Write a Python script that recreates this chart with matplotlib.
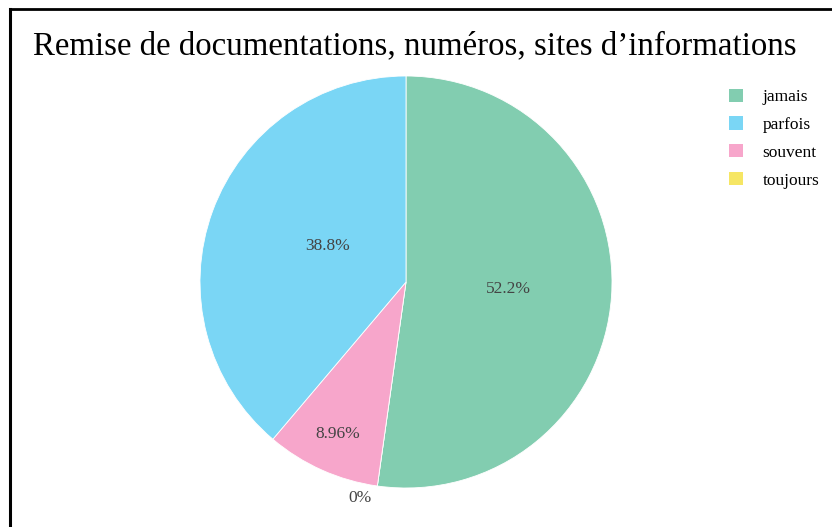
import numpy as np
import matplotlib
matplotlib.use("Agg")
import matplotlib.pyplot as plt
from matplotlib.patches import Patch
from matplotlib.lines import Line2D

title = "Remise de documentations, numéros, sites d’informations"
legend_labels = ["jamais", "parfois", "souvent", "toujours"]
legend_colors = ["#82CDB0", "#7AD6F5", "#F7A6CB", "#F6E664"]

# slice drawing order (clockwise from 12 o'clock)
slice_labels = ["jamais", "toujours", "souvent", "parfois"]
slice_values = [52.2, 0.0, 8.96, 38.8]
slice_texts = ["52.2%", "0%", "8.96%", "38.8%"]
label_dist = [0.5, 1.07, 0.81, 0.42]
label_nudge = [0.0, -4.0, 0.0, -4.8]

color_map = dict(zip(legend_labels, legend_colors))

fig = plt.figure(figsize=(8.32, 5.27), dpi=100)
W, H = 832, 527

ax = fig.add_axes([200 / W, 1 - 488 / H, 412 / W, 412 / H])
wedges, _ = ax.pie(slice_values, colors=[color_map[l] for l in slice_labels],
                   startangle=90, counterclock=False, radius=1.0,
                   wedgeprops=dict(edgecolor="white", linewidth=0.6))
ax.set_xlim(-1, 1)
ax.set_ylim(-1, 1)
ax.set_aspect("equal")
ax.axis("off")

total = sum(slice_values)
cum = 0.0
for v, t, d, n in zip(slice_values, slice_texts, label_dist, label_nudge):
    mid = 90 - (cum + v / 2) / total * 360 + n
    cum += v
    a = np.deg2rad(mid)
    ax.text(d * np.cos(a), d * np.sin(a), t, ha="center", va="center",
            fontsize=12.5, color="#444444", family="Liberation Serif")

fig.text(415 / W, 1 - 46 / H, title, ha="center", va="center",
         fontsize=23.7, family="Liberation Serif", color="black")

handles = [Patch(facecolor=c, edgecolor="none") for c in legend_colors]
fig.legend(handles, legend_labels, loc="upper left",
           bbox_to_anchor=(713 / W, 1 - 73 / H), frameon=False,
           handlelength=0.8, handleheight=0.8, labelspacing=0.64,
           handletextpad=1.15, prop=dict(family="Liberation Serif", size=12.5))

# frame lines (left and top)
fig.add_artist(Line2D([10 / W, 10 / W], [0, 1 - 9 / H], color="black", lw=2.2,
                      transform=fig.transFigure, solid_capstyle="projecting"))
fig.add_artist(Line2D([10 / W, 1], [1 - 9 / H, 1 - 9 / H], color="black", lw=2.0,
                      transform=fig.transFigure, solid_capstyle="projecting"))

fig.savefig("out.png", dpi=100)
